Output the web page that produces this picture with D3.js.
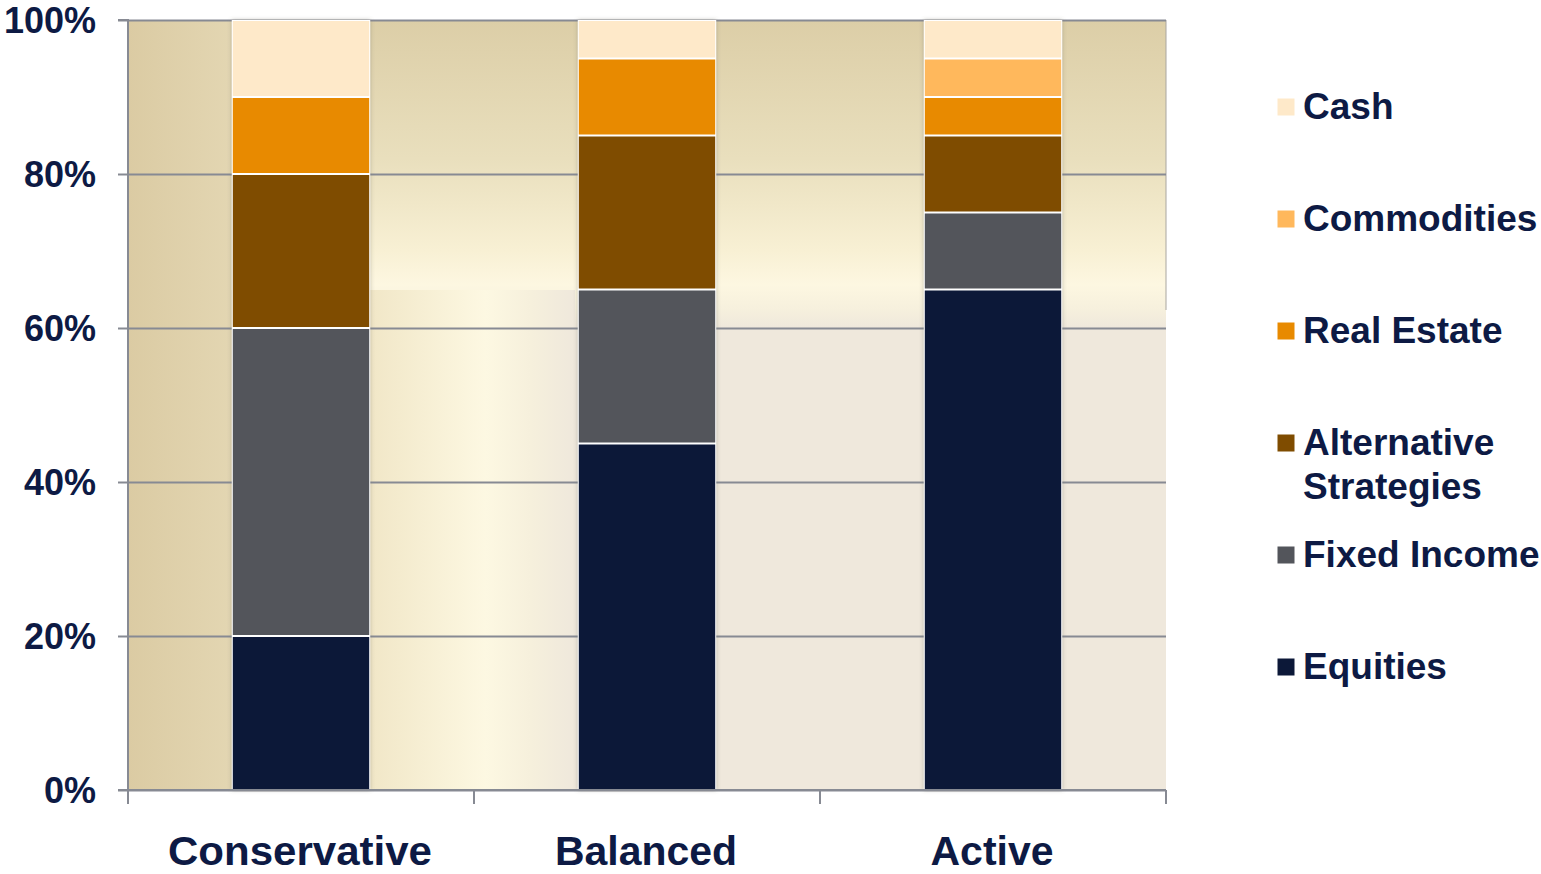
<!DOCTYPE html>
<html>
<head>
<meta charset="utf-8">
<script src="https://cdn.jsdelivr.net/npm/d3@7"></script>
<style>
  html, body { margin: 0; padding: 0; background: #ffffff; }
  svg { display: block; }
  text { font-family: "Liberation Sans", Arial, Helvetica, sans-serif; font-weight: bold; fill: #0d1a44; }
</style>
</head>
<body>
<svg id="chart" width="1541" height="874"></svg>
<script>
// ---------------- data ----------------
const categories = ["Conservative", "Balanced", "Active"];
const seriesNames = ["Equities", "Fixed Income", "Alternative Strategies", "Real Estate", "Commodities", "Cash"];
const equities = [20, 45, 65];
const fixedIncome = [40, 20, 10];
const alternativeStrategies = [20, 20, 10];
const realEstate = [10, 10, 5];
const commodities = [0, 0, 5];
const cash = [10, 5, 5];
const yTickValues = [0, 20, 40, 60, 80, 100];
const yTickLabels = ["0%", "20%", "40%", "60%", "80%", "100%"];
const legendLabels = [["Cash"], ["Commodities"], ["Real Estate"], ["Alternative", "Strategies"], ["Fixed Income"], ["Equities"]];
const legendKeys = ["Cash", "Commodities", "Real Estate", "Alternative Strategies", "Fixed Income", "Equities"];

// ---------------- styles ----------------
const colors = {
  "Equities": "#0c1838",
  "Fixed Income": "#53555b",
  "Alternative Strategies": "#7f4c00",
  "Real Estate": "#e88a00",
  "Commodities": "#ffb85c",
  "Cash": "#fee9c9"
};

const seriesValues = [equities, fixedIncome, alternativeStrategies, realEstate, commodities, cash];
const table = categories.map((c, i) => {
  const row = { category: c };
  seriesNames.forEach((s, j) => row[s] = seriesValues[j][i]);
  return row;
});

const svg = d3.select("#chart");
const margin = { left: 128, right: 1166, top: 20, bottom: 790 };

const x = d3.scaleBand().domain(categories).range([margin.left, margin.right])
  .paddingInner(0.6).paddingOuter(0.3);
const xCell = d3.scaleBand().domain(categories).range([margin.left, margin.right]).padding(0);
const y = d3.scaleLinear().domain([0, 100]).range([margin.bottom, margin.top]);

// ---------------- defs ----------------
const defs = svg.append("defs");
const gLeft = defs.append("linearGradient").attr("id", "gLeft")
  .attr("gradientUnits", "userSpaceOnUse")
  .attr("x1", margin.left).attr("x2", 575).attr("y1", 0).attr("y2", 0);
[[0, "#dbcba3"], [0.23, "#e3d6b2"], [0.5, "#efe4c3"], [0.8, "#fdf8e2"], [0.9, "#f6f0dc"], [1, "#efe8dc"]]
  .forEach(([o, c]) => gLeft.append("stop").attr("offset", o).attr("stop-color", c));

const gTop = defs.append("linearGradient").attr("id", "gTop")
  .attr("gradientUnits", "userSpaceOnUse")
  .attr("x1", 0).attr("x2", 0).attr("y1", margin.top).attr("y2", y(60));
[[0, "#dccea7"], [0.45, "#e9dfbd"], [0.75, "#f8f0d4"], [0.86, "#fdf7e1"], [0.94, "#f6f0dd"], [1, "#efe8dc"]]
  .forEach(([o, c]) => gTop.append("stop").attr("offset", o).attr("stop-color", c));

const shadow = defs.append("filter").attr("id", "barShadow")
  .attr("x", "-10%").attr("y", "-2%").attr("width", "120%").attr("height", "104%");
shadow.append("feDropShadow").attr("dx", 0).attr("dy", 0).attr("stdDeviation", 2.2)
  .attr("flood-color", "#6f6a5e").attr("flood-opacity", 0.45);

// ---------------- background ----------------
const bg = svg.append("g");
bg.append("rect").attr("x", margin.left).attr("y", margin.top)
  .attr("width", margin.right - margin.left).attr("height", margin.bottom - margin.top)
  .attr("fill", "#efe8dc");
bg.append("rect").attr("x", x(categories[0])).attr("y", margin.top)
  .attr("width", margin.right - x(categories[0])).attr("height", y(60) - margin.top)
  .attr("fill", "url(#gTop)");
bg.append("rect").attr("x", margin.left).attr("y", margin.top)
  .attr("width", x(categories[0]) - margin.left).attr("height", 290 - margin.top)
  .attr("fill", "url(#gLeft)");
bg.append("rect").attr("x", margin.left).attr("y", 290)
  .attr("width", 575 - margin.left).attr("height", margin.bottom - 290)
  .attr("fill", "url(#gLeft)");
bg.append("line").attr("x1", margin.right).attr("x2", margin.right)
  .attr("y1", margin.top).attr("y2", 310).attr("stroke", "#a9a6a0").attr("stroke-width", 1);

// ---------------- gridlines ----------------
svg.append("g")
  .attr("transform", `translate(${margin.left},0)`)
  .call(d3.axisLeft(y).tickValues(yTickValues).tickSize(-(margin.right - margin.left)).tickFormat(""))
  .call(g => g.select(".domain").remove())
  .call(g => g.selectAll(".tick line").attr("stroke", "#878a93").attr("stroke-width", 2));

// ---------------- bars ----------------
const stack = d3.stack().keys(seriesNames);
const stacked = stack(table);

const barGroups = svg.append("g").selectAll("g.cat")
  .data(categories).join("g").attr("class", "cat");

barGroups.append("rect")
  .attr("x", d => x(d)).attr("width", x.bandwidth())
  .attr("y", y(100)).attr("height", y(0) - y(100))
  .attr("fill", "#ffffff").attr("filter", "url(#barShadow)");

svg.append("g").selectAll("g.series")
  .data(stacked).join("g").attr("class", "series")
  .attr("fill", d => colors[d.key])
  .selectAll("rect")
  .data(d => d.filter(p => p[1] - p[0] > 0))
  .join("rect")
  .attr("x", d => x(d.data.category) + 1)
  .attr("width", x.bandwidth() - 2)
  .attr("y", d => y(d[1]) + 1)
  .attr("height", d => y(d[0]) - y(d[1]) - 2);

// ---------------- axes ----------------
const yAxis = svg.append("g")
  .attr("transform", `translate(${margin.left},0)`)
  .call(d3.axisLeft(y).tickValues(yTickValues).tickSize(10).tickPadding(22)
    .tickFormat((d, i) => yTickLabels[i]));
yAxis.select(".domain").attr("stroke", "#878a93").attr("stroke-width", 2).attr("d", `M-10,${y(0)}H0V${y(100)}H-10`);
yAxis.selectAll(".tick line").attr("stroke", "#878a93").attr("stroke-width", 2);
yAxis.selectAll(".tick text")
  .attr("fill", "#0d1a44").attr("font-size", 36).attr("font-weight", "bold")
  .attr("font-family", "'Liberation Sans', Arial, sans-serif").attr("dy", "0.36em");

const xAxisG = svg.append("g").attr("transform", `translate(0,${y(0)})`);
xAxisG.append("line").attr("x1", margin.left).attr("x2", margin.right)
  .attr("y1", 0).attr("y2", 0).attr("stroke", "#878a93").attr("stroke-width", 2);
const boundaries = categories.map(c => xCell(c)).concat([xCell(categories[categories.length - 1]) + xCell.bandwidth()]);
xAxisG.selectAll("line.bt").data(boundaries).join("line").attr("class", "bt")
  .attr("x1", d => d).attr("x2", d => d).attr("y1", 0).attr("y2", 14)
  .attr("stroke", "#878a93").attr("stroke-width", 2);
xAxisG.selectAll("text.cl").data(categories).join("text").attr("class", "cl")
  .attr("x", d => xCell(d) + xCell.bandwidth() / 2 - 1)
  .attr("y", 75)
  .attr("text-anchor", "middle")
  .attr("font-size", 40)
  .attr("textLength", (d, i) => [264, 182, 123][i])
  .attr("lengthAdjust", "spacingAndGlyphs")
  .text(d => d);

// ---------------- legend ----------------
const legend = svg.append("g").attr("transform", "translate(1277,0)");
const items = legend.selectAll("g.li").data(legendKeys).join("g").attr("class", "li")
  .attr("transform", (d, i) => `translate(0,${119 + i * 112})`);
items.append("rect").attr("x", 0).attr("y", -21).attr("width", 18).attr("height", 18)
  .attr("fill", d => colors[d]).attr("stroke", "#ffffff").attr("stroke-width", 1);
items.append("text").attr("x", 26).attr("y", 0).attr("font-size", 37)
  .each(function(d, i) {
    const t = d3.select(this);
    legendLabels[i].forEach((line, k) => {
      t.append("tspan").attr("x", 26).attr("dy", k === 0 ? 0 : 44).text(line);
    });
  });
</script>
</body>
</html>
